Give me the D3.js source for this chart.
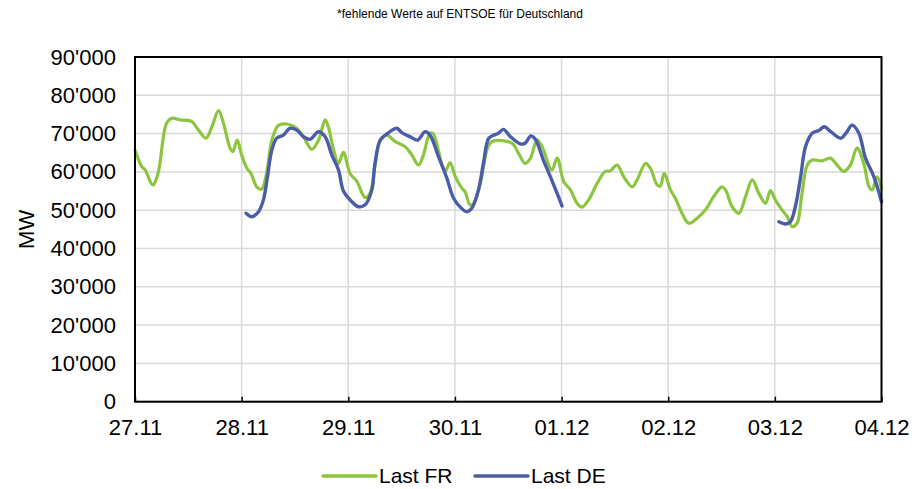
<!DOCTYPE html>
<html>
<head>
<meta charset="utf-8">
<title>Last FR / DE</title>
<style>
  body { margin: 0; background: #fff; font-family: "Liberation Sans", Arial, sans-serif; }
  .axis text { font-family: "Liberation Sans", Arial, sans-serif; font-size: 22px; fill: #000; }
  .axis path { display: none; }
</style>
</head>
<body>
<div id="vis"></div>
<script src="https://d3js.org/d3.v7.min.js"></script>
<script>
// day labels at every 24 hours
var dayLabels = ["27.11", "28.11", "29.11", "30.11", "01.12", "02.12", "03.12", "04.12"];
var yTicks = [0, 10000, 20000, 30000, 40000, 50000, 60000, 70000, 80000, 90000];

// hours since 27.11 00:00, values in MW
var frHours = [0, 1.5, 2.3, 4.0, 5.2, 7.1, 8.3, 10.1, 12.8, 14.3, 16.0, 17.3, 18.8, 19.9, 21.4, 22.0, 23.0,
  24.0, 25.2, 26.1, 27.4, 28.5, 29.6, 30.8, 32.3, 34.2, 36.4, 37.9, 39.8, 41.3, 42.8, 43.5, 44.7, 45.8, 46.9,
  48.4, 49.9, 51.8, 52.9, 54.0, 55.2, 56.7, 58.6, 60.8, 62.3, 63.8, 64.9, 66.4, 67.1, 69.1, 69.8, 70.9,
  72.1, 73.6, 74.3, 75.4, 76.2, 77.7, 79.6, 80.7, 84.8, 86.3, 87.8, 89.0, 90.5, 91.6, 93.8, 95.0,
  96.5, 98.0, 99.5, 100.6, 102.1, 104.0, 105.8, 107.0, 108.5, 110.0, 111.9, 113.0, 114.9, 116.0, 117.5, 118.2, 119.1,
  120.5, 121.6, 123.1, 124.6, 126.5, 128.4, 130.2, 132.1, 132.9, 134.4, 135.9, 137.4, 138.9, 140.4, 141.9, 143.0,
  144.1, 145.6, 146.8, 147.9, 149.0, 150.1, 151.3, 152.4, 154.6, 156.5, 158.0, 159.5, 161.0, 162.5, 164.0, 165.2, 165.9, 167.0, 168.0];
var frLoad = [65700, 61400, 60500, 56600, 59700, 72700, 74000, 73600, 73100, 70900, 68800, 71800, 76000, 72700, 66200, 65300, 68300,
  64400, 60900, 59600, 56100, 55500, 59600, 68300, 72200, 72500, 71400, 69200, 65900, 68300, 73600, 71800, 65700, 62200, 65100,
  59600, 57600, 53300, 54400, 61400, 68300, 69600, 67900, 66600, 64400, 61800, 64400, 70100, 70000, 61800, 60100, 62400,
  58700, 55700, 54800, 51400, 51800, 57000, 67000, 68100, 67500, 64900, 62200, 63600, 68300, 66600, 60500, 63600,
  57400, 55300, 51800, 50800, 52700, 57000, 60100, 60300, 61800, 58700, 56100, 57900, 62200, 60900, 56600, 56300, 59600,
  55300, 53100, 49200, 46600, 47900, 50100, 53500, 56100, 55300, 50900, 49200, 53500, 57900, 54400, 51800, 55100,
  52700, 50100, 48300, 45700, 46600, 54400, 61800, 63100, 62900, 63600, 61800, 60100, 61800, 66200, 62200, 56100, 55300, 58700, 55700];

// null = missing values on ENTSOE
var deHours = [25.0, 26.3, 27.8, 28.9, 29.7, 30.8, 31.9, 33.4, 34.9, 36.4, 37.9, 39.4, 41.3, 42.8, 44.3, 45.8, 46.9,
  48.4, 50.3, 51.8, 53.3, 54.0, 55.2, 57.0, 58.9, 60.1, 61.9, 63.6, 65.3, 66.4, 68.3, 70.2, 71.7,
  73.2, 74.7, 75.8, 77.3, 78.4, 79.6, 80.7, 81.8, 82.9, 84.5, 86.7, 87.8, 89.1, 90.1, 91.9, 93.5, 95.0, 96.1,
  120.0,
  144.9, 146.4, 147.5, 148.6, 149.8, 150.9, 152.4, 153.9, 155.1, 156.6, 158.8, 160.0, 161.4, 162.9, 164.4, 166.3, 168.0];
var deLoad = [49200, 48300, 49600, 52700, 57900, 65700, 68800, 69600, 71400, 70900, 69200, 68500, 70500, 69200, 64400, 60500, 55000,
  52700, 50900, 51400, 55300, 62200, 68300, 70200, 71400, 70200, 69200, 68300, 70500, 69600, 64000, 58300, 53100,
  50800, 49600, 50500, 55300, 62200, 68800, 69600, 70100, 71100, 69200, 67300, 67500, 69400, 68500, 63100, 58700, 54400, 51100,
  null,
  47000, 46400, 47000, 50900, 58700, 66600, 70100, 70800, 71800, 70500, 68800, 70100, 72200, 70100, 63600, 58700, 52200];

var seriesNames = ["Last FR", "Last DE"];
var colors = ["#8cc63f", "#4b5ca8"];

var margin = {top: 57, left: 135},
    width = 746.5, height = 344.7;

var svg = d3.select("#vis").append("svg")
    .attr("width", 921)
    .attr("height", 489);

var g = svg.append("g")
    .attr("transform", "translate(" + margin.left + "," + margin.top + ")");

var x = d3.scaleLinear().domain([0, 168]).range([0, width]);
var y = d3.scaleLinear().domain([0, 90000]).range([height, 0]);

var fmt = d3.formatLocale({decimal: ".", thousands: "'", grouping: [3], currency: ["", ""]}).format(",");
var dayTicks = dayLabels.map(function(d, i) { return i * 24; });

// grid
g.append("g").selectAll("line").data(yTicks).enter().append("line")
    .attr("x1", 0).attr("x2", width)
    .attr("y1", function(d) { return y(d); }).attr("y2", function(d) { return y(d); })
    .attr("stroke", "#d9d9d9").attr("stroke-width", 1.5);
g.append("g").selectAll("line").data(dayTicks).enter().append("line")
    .attr("y1", 0).attr("y2", height)
    .attr("x1", function(d) { return x(d); }).attr("x2", function(d) { return x(d); })
    .attr("stroke", "#d9d9d9").attr("stroke-width", 1.5);

// axes
g.append("g").attr("class", "axis")
    .call(d3.axisLeft(y).tickValues(yTicks).tickFormat(fmt).tickSize(0).tickPadding(19));

var xAxis = g.append("g").attr("class", "axis")
    .attr("transform", "translate(0," + height + ")")
    .call(d3.axisBottom(x).tickValues(dayTicks)
      .tickFormat(function(d, i) { return dayLabels[i]; })
      .tickSizeInner(-5).tickSizeOuter(0).tickPadding(18));
xAxis.selectAll(".tick line").attr("stroke", "#000").attr("stroke-width", 1.5);

// lines
var line = d3.line()
    .defined(function(d) { return d[1] !== null; })
    .x(function(d) { return x(d[0]); })
    .y(function(d) { return y(d[1]); })
    .curve(d3.curveCatmullRom.alpha(0.5));

var frData = frHours.map(function(h, i) { return [h, frLoad[i]]; });
var deData = deHours.map(function(h, i) { return [h, deLoad[i]]; });

g.append("path").datum(frData)
    .attr("d", line).attr("fill", "none")
    .attr("stroke", colors[0]).attr("stroke-width", 3.2).attr("stroke-linejoin", "round").attr("stroke-linecap", "round");
g.append("path").datum(deData)
    .attr("d", line).attr("fill", "none")
    .attr("stroke", colors[1]).attr("stroke-width", 3.4).attr("stroke-linejoin", "round").attr("stroke-linecap", "round");

// frame
g.append("rect")
    .attr("width", width).attr("height", height)
    .attr("fill", "none").attr("stroke", "#000").attr("stroke-width", 2);

// y title
svg.append("text")
    .attr("transform", "translate(34," + (margin.top + height / 2) + ") rotate(-90)")
    .attr("text-anchor", "middle")
    .style("font-size", "22px")
    .text("MW");

// note
svg.append("text")
    .attr("x", 460).attr("y", 18)
    .attr("text-anchor", "middle")
    .style("font-size", "12px")
    .text("*fehlende Werte auf ENTSOE für Deutschland");

// legend
var legendX = [323, 475];
var leg = svg.selectAll(".leg").data(seriesNames).enter().append("g")
    .attr("class", "leg")
    .attr("transform", function(d, i) { return "translate(" + legendX[i] + ",476)"; });
leg.append("line").attr("x1", 0).attr("x2", 53)
    .attr("stroke", function(d, i) { return colors[i]; })
    .attr("stroke-width", 3.5).attr("stroke-linecap", "round");
leg.append("text").attr("x", 56).attr("dy", "0.35em")
    .style("font-size", "21px")
    .text(function(d) { return d; });
</script>
</body>
</html>
